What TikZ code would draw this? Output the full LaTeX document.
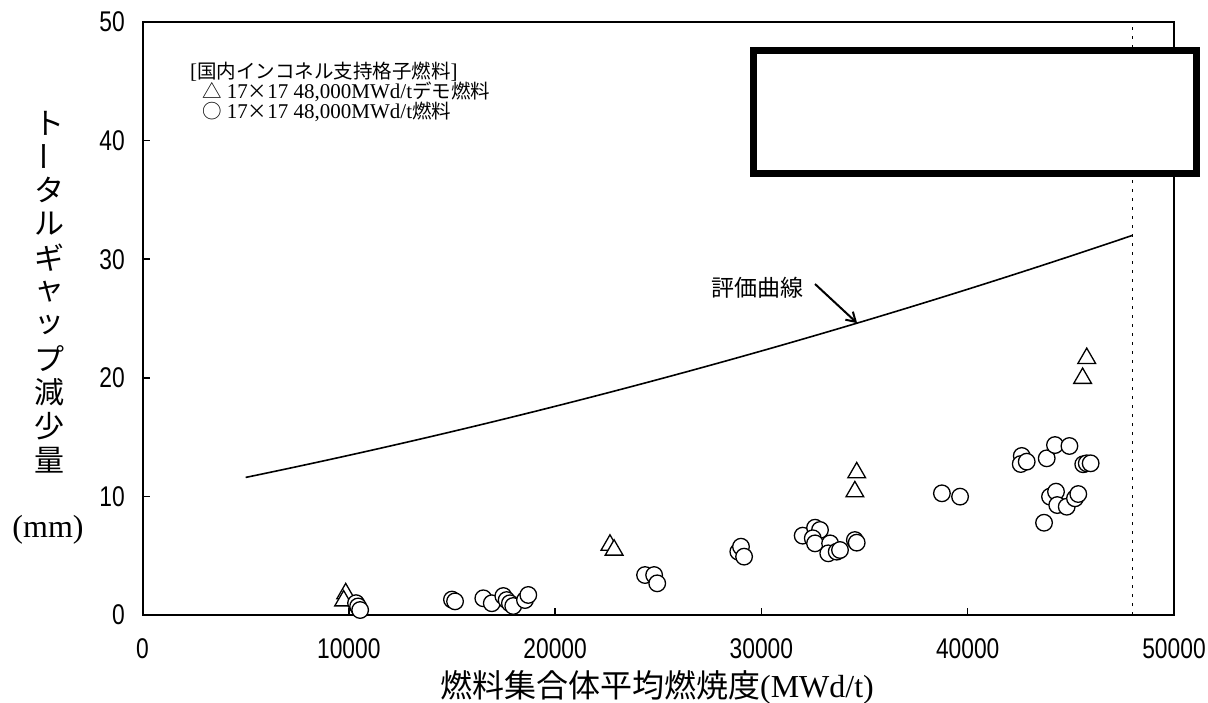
\documentclass[tikz,border=0pt]{standalone}
\usepackage{fontspec}
\setmainfont{Liberation Serif}
\newfontfamily\jp{Noto Sans CJK JP}
\newfontfamily\tickfont[FakeStretch=0.8]{Liberation Sans}
\usetikzlibrary{shapes.geometric,arrows.meta}
\newcommand{\legjp}[1]{{\jp\fontsize{19.5}{19.5}\selectfont #1}}
\tikzset{
  frame/.style={draw=black, line width=2pt},
  tickmark/.style={draw=black, line width=1.5pt},
  dotline/.style={draw=black, line width=1.3pt, dash pattern=on 3pt off 6pt},
  curve/.style={draw=black, line width=1.6pt},
  circmark/.style={circle, draw=black, fill=white, line width=1.3pt, minimum size=16.6pt, inner sep=0pt},
  trimark/.style={regular polygon, regular polygon sides=3, draw=black, fill=white, line width=1.3pt, minimum size=20.5pt, inner sep=0pt},
  ticklab/.style={font=\tickfont\fontsize{28.5}{28.5}\selectfont, inner sep=0pt},
  ylab/.style={font=\jp\fontsize{30}{30}\selectfont, inner sep=0pt},
  legtext/.style={font=\fontsize{21}{21}\selectfont, inner sep=0pt, anchor=base west, text height=14pt, text depth=4pt},
  hidebox/.style={draw=black, fill=white, line width=7pt, minimum width=442.5pt, minimum height=123pt, inner sep=0pt},
  arrowline/.style={draw=black, line width=2pt, -{Straight Barb[length=9pt,width=11pt]}},
}
\begin{document}
\begin{tikzpicture}[x=1pt, y=-1pt]
\useasboundingbox (0,0) rectangle (1208,703);
\fill[white] (0,0) rectangle (1208,703);

% data coordinate system: x in 1000 MWd/t, y in mm
\begin{scope}[shift={(142.5,615)}, x=20.63pt, y=11.86pt]
  % curve
  \draw[curve] plot[domain=5:48, samples=90] (\x, {9.87+0.3325*\x+0.002678*\x*\x});
  \coordinate (tip) at (34.64, {9.87+0.3325*34.64+0.002678*34.64*34.64});
  % dotted limit
  \draw[dotline] (48,0) -- (48,50);
  % frame
  \draw[frame] (0,0) rectangle (50,50);
  \foreach \k in {10,20,30,40} {
    \draw[tickmark] (\k,0) -- ++(0pt,7pt);
    \draw[tickmark] (0,\k) -- ++(7pt,0pt);
  }
  % tick labels
  \foreach \v in {0,10,20,30,40,50}
    \node[ticklab, anchor=east] (yt\v) at (-0.85,\v) {\v};
  \foreach \k/\t in {0/0,10/10000,20/20000,30/30000,40/40000,50/50000}
    \node[ticklab] (xt\k) at (\k,-2.8) {\t};

  % triangles (demo fuel)
  \foreach \x/\y [count=\i] in {9.85/1.8, 9.75/1.2, 22.66/5.9, 22.86/5.48, 34.62/12.0, 34.53/10.4, 45.77/21.64, 45.57/19.96}
    \node[trimark] (t\i) at (\x,\y) {};

  % circles (fuel)
  \foreach \x/\y [count=\i] in {
    10.35/1.0, 10.45/0.72, 10.55/0.42,
    15.0/1.3, 15.15/1.15,
    16.52/1.41, 16.93/0.99, 17.49/1.6, 17.65/1.26, 17.81/0.99, 17.97/0.76, 18.54/1.26, 18.7/1.69,
    24.36/3.37, 24.8/3.37, 24.95/2.67,
    28.88/5.34, 29.01/5.76, 29.16/4.92,
    32.0/6.69, 32.6/7.36, 32.84/7.17, 32.49/6.47, 32.6/6.04, 33.33/6.04, 33.24/5.2, 33.65/5.34, 33.81/5.48, 34.53/6.32, 34.62/6.1,
    38.75/10.26, 39.63/9.98,
    42.62/13.41, 42.57/12.73, 42.86/12.93, 43.83/13.21, 44.23/14.33, 44.93/14.25, 45.6/12.71, 45.77/12.79, 45.96/12.79,
    43.99/9.98, 44.28/10.4, 44.34/9.27, 44.8/9.13, 45.2/9.84, 45.36/10.2, 43.7/7.78}
    \node[circmark] (c\i) at (\x,\y) {};
\end{scope}

% curve label and arrow
\node[font=\jp\fontsize{23}{23}\selectfont, inner sep=0pt] (lab) at (757,288) {評価曲線};
\coordinate (arrstart) at (815,284);
\draw[arrowline] (arrstart) -- (tip);

% legend
\node[legtext] (leg1) at (190,79) {[\legjp{国内インコネル支持格子燃料}]};
\node[legtext] (leg2) at (202,99) {\legjp{△}\ 17\legjp{×}17 48,000MWd/t\legjp{デモ燃料}};
\node[legtext] (leg3) at (202,119) {\legjp{○}\ 17\legjp{×}17 48,000MWd/t\legjp{燃料}};

% white box
\node[hidebox] (box) at (974.75,112) {};

% y-axis title (vertical)
\node[ylab] (y1) at (49.5,123) {ト};
\node[ylab, rotate=90] (y2) at (49.5,156.7) {ー};
\node[ylab] (y3) at (49.5,190.4) {タ};
\node[ylab] (y4) at (49.5,224.1) {ル};
\node[ylab] (y5) at (49.5,257.8) {ギ};
\node[ylab] (y6) at (49.5,291.5) {ャ};
\node[ylab] (y7) at (49.5,325.2) {ッ};
\node[ylab] (y8) at (49.5,358.9) {プ};
\node[ylab] (y9) at (49.5,392.6) {減};
\node[ylab] (y10) at (49.5,426.3) {少};
\node[ylab] (y11) at (49.5,460) {量};
\node[font=\fontsize{32}{32}\selectfont, inner sep=0pt] (ymm) at (48,530) {(mm)};

% x-axis title
\node[font=\fontsize{32}{32}\selectfont, inner sep=0pt] (xtitle) at (657,687) {{\jp 燃料集合体平均燃焼度}(MWd/t)};
\end{tikzpicture}
\end{document}
